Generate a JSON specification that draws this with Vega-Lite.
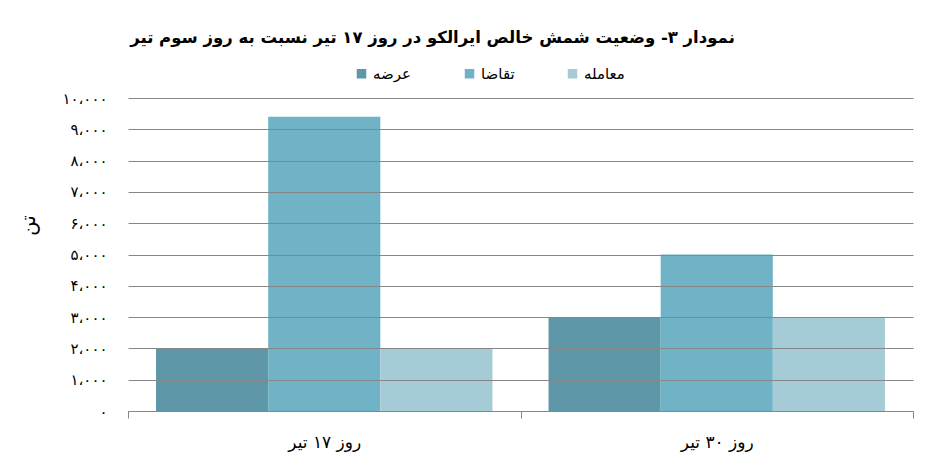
{
  "$schema": "https://vega.github.io/schema/vega-lite/v6.json",
  "autosize": "none",
  "width": 785,
  "height": 313,
  "padding": {"left": 128, "top": 98, "right": 33, "bottom": 63},
  "background": "white",
  "config": {
    "font": "DejaVu Sans",
    "view": {"stroke": null}
  },
  "title": {
    "text": "نمودار ۳- وضعیت شمش خالص ایرالکو در روز ۱۷ تیر نسبت به روز سوم تیر",
    "fontSize": 16.5,
    "fontWeight": "bold",
    "color": "black",
    "anchor": "middle",
    "dx": -88,
    "offset": 20
  },
  "data": {
    "values": [
      {"day": "روز ۱۷ تیر", "type": "عرضه", "value": 2000},
      {"day": "روز ۱۷ تیر", "type": "تقاضا", "value": 9400},
      {"day": "روز ۱۷ تیر", "type": "معامله", "value": 2000},
      {"day": "روز ۳۰ تیر", "type": "عرضه", "value": 3000},
      {"day": "روز ۳۰ تیر", "type": "تقاضا", "value": 5000},
      {"day": "روز ۳۰ تیر", "type": "معامله", "value": 3000}
    ]
  },
  "mark": {"type": "bar"},
  "encoding": {
    "x": {
      "field": "day",
      "type": "nominal",
      "sort": null,
      "scale": {"paddingInner": 0, "paddingOuter": 0},
      "axis": {
        "title": null,
        "labelAngle": 0,
        "tickBand": "extent",
        "tickSize": 7,
        "tickColor": "#868686",
        "domainColor": "#868686",
        "labelPadding": 16,
        "labelFontSize": 17,
        "labelColor": "black",
        "grid": false
      }
    },
    "xOffset": {
      "field": "type",
      "type": "nominal",
      "sort": ["عرضه", "تقاضا", "معامله"],
      "scale": {"paddingInner": 0, "paddingOuter": 0.25}
    },
    "y": {
      "field": "value",
      "type": "quantitative",
      "scale": {"domain": [0, 10000], "nice": false},
      "axis": {
        "values": [0, 1000, 2000, 3000, 4000, 5000, 6000, 7000, 8000, 9000, 10000],
        "grid": true,
        "gridColor": "#868686",
        "gridOpacity": 1,
        "domain": false,
        "ticks": false,
        "zindex": 1,
        "labelPadding": 21,
        "labelFontSize": 15,
        "labelColor": "black",
        "labelExpr": "replace(replace(replace(replace(replace(replace(replace(replace(replace(replace(replace(format(datum.value, ','), regexp(',','g'), '،'), regexp('0','g'), '۰'), regexp('1','g'), '۱'), regexp('2','g'), '۲'), regexp('3','g'), '۳'), regexp('4','g'), '۴'), regexp('5','g'), '۵'), regexp('6','g'), '۶'), regexp('7','g'), '۷'), regexp('8','g'), '۸'), regexp('9','g'), '۹')",
        "title": "تن",
        "titleFontSize": 20,
        "titleFontWeight": "normal",
        "titleColor": "black",
        "titleX": -90,
        "titleY": 127
      }
    },
    "color": {
      "field": "type",
      "type": "nominal",
      "scale": {
        "domain": ["عرضه", "تقاضا", "معامله"],
        "range": ["#5E97A8", "#70B3C6", "#A4CBD6"]
      },
      "legend": {
        "title": null,
        "orient": "none",
        "direction": "horizontal",
        "legendX": 226,
        "legendY": -32,
        "symbolType": "square",
        "symbolSize": 90,
        "symbolStrokeWidth": 0,
        "labelFontSize": 15,
        "labelColor": "black",
        "columnPadding": 50
      }
    }
  }
}
